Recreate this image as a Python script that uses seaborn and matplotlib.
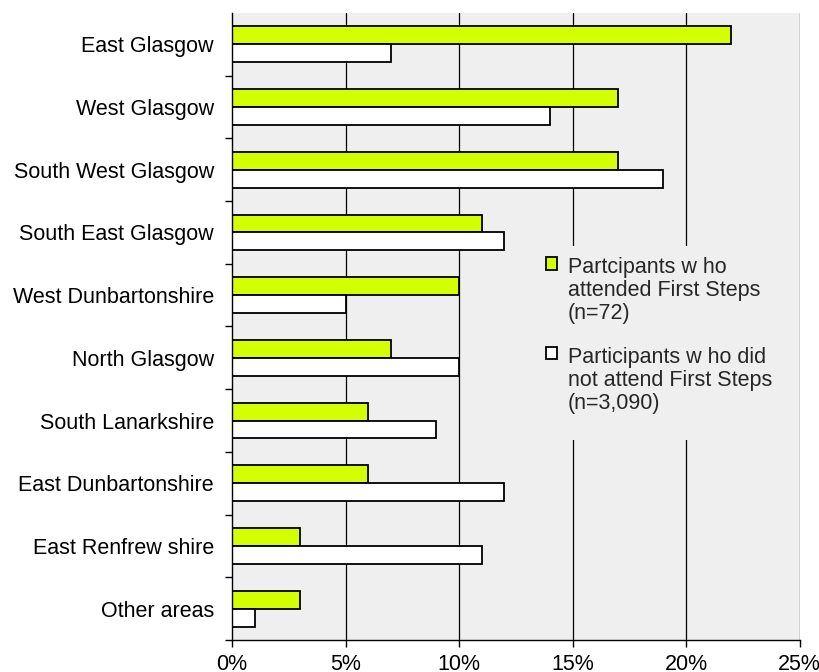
import matplotlib
matplotlib.use("Agg")
import matplotlib.pyplot as plt
from matplotlib.patches import Rectangle
from matplotlib.ticker import FixedLocator
import seaborn as sns
import pandas as pd

# Share of participants by area of residence
areas = [
    "East Glasgow",
    "West Glasgow",
    "South West Glasgow",
    "South East Glasgow",
    "West Dunbartonshire",
    "North Glasgow",
    "South Lanarkshire",
    "East Dunbartonshire",
    "East Renfrew shire",
    "Other areas",
]
attended = [22, 17, 17, 11, 10, 7, 6, 6, 3, 3]
not_attended = [7, 14, 19, 12, 5, 10, 9, 12, 11, 1]
group_labels = [
    "Partcipants w ho\nattended First Steps\n(n=72)",
    "Participants w ho did\nnot attend First Steps\n(n=3,090)",
]
x_ticks = [0, 5, 10, 15, 20, 25]
x_tick_labels = ["0%", "5%", "10%", "15%", "20%", "25%"]

df = pd.DataFrame({
    "area": areas * 2,
    "pct": attended + not_attended,
    "group": [group_labels[0]] * len(areas) + [group_labels[1]] * len(areas),
})

sns.set_theme(style="white")
plt.rcParams["font.family"] = ["Liberation Sans", "DejaVu Sans"]

FS = 15.5
BG = "#efefef"
GREEN = "#d4ff00"

fig = plt.figure(figsize=(8.19, 6.72), dpi=100)
ax = fig.add_axes([232 / 819, 1 - 640 / 672, 567.5 / 819, 627 / 672])
ax.set_facecolor(BG)

sns.barplot(
    data=df, y="area", x="pct", hue="group", order=areas,
    hue_order=group_labels, palette=[GREEN, "white"], orient="h",
    width=0.57, edgecolor="black", linewidth=1.3, saturation=1,
    ax=ax, zorder=3,
)

ax.set_xlim(0, 25)
ax.set_ylim(len(areas) - 0.5, -0.5)
ax.set_xticks(x_ticks)
ax.set_xticklabels(x_tick_labels, fontsize=FS)
ax.set_xlabel("")
ax.set_ylabel("")
ax.tick_params(axis="y", which="major", length=0, pad=13, labelsize=FS,
               colors="black")
ax.yaxis.set_minor_locator(FixedLocator([i + 0.5 for i in range(len(areas))]))
ax.tick_params(axis="y", which="minor", left=True, length=5, width=1,
               color="black", direction="out")
ax.tick_params(axis="x", which="major", bottom=True, length=5, width=1,
               color="black", direction="out", pad=5, labelcolor="black")
for lab in ax.get_yticklabels():
    lab.set_color("black")

ax.grid(False)
for xv in x_ticks[1:]:
    ax.axvline(xv, color="black", lw=0.9, zorder=1)

# plain panel behind the legend, hiding the gridlines there
ax.add_patch(Rectangle((0.52, 0.319), 0.47, 0.309, transform=ax.transAxes,
                       facecolor=BG, edgecolor="none", zorder=2))

for side in ["top", "right"]:
    ax.spines[side].set_visible(False)
for side in ["left", "bottom"]:
    ax.spines[side].set_visible(True)
    ax.spines[side].set_color("black")
    ax.spines[side].set_linewidth(1.0)
    ax.spines[side].set_zorder(4)

handles, labels = ax.get_legend_handles_labels()
leg = ax.legend(
    handles, labels, loc="upper left", bbox_to_anchor=(0.534, 0.628),
    borderaxespad=0, borderpad=0.5, frameon=True, facecolor=BG,
    edgecolor="none", framealpha=1, fontsize=FS, handlelength=0.52,
    handleheight=0.52, handletextpad=0.5, labelspacing=1.05,
)
leg.set_zorder(5)
for t in leg.get_texts():
    t.set_linespacing(1.13)
for col in leg._legend_handle_box.get_children():
    for row in col.get_children():
        row.align = "top"

fig.savefig("out.png", dpi=100, facecolor="white")
